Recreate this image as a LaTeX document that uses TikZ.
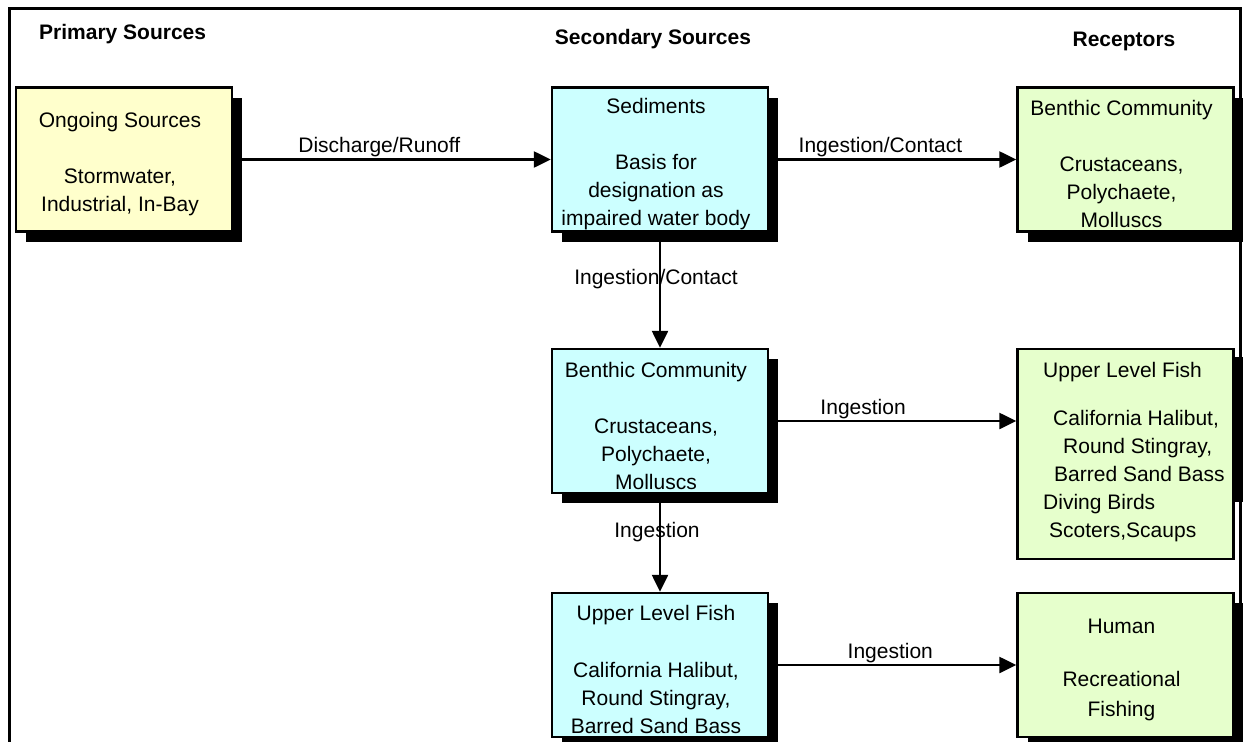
\documentclass[tikz,border=0pt]{standalone}
\usepackage{fontspec}
\setmainfont{Liberation Sans}
\usetikzlibrary{shadows,arrows.meta}
\definecolor{srcyellow}{HTML}{FFFFCC}
\definecolor{seccyan}{HTML}{CCFFFF}
\definecolor{recgreen}{HTML}{E6FFCC}
\newcommand{\cmfont}{\fontsize{21}{28}\selectfont}
\tikzset{
	cmbox/.style={draw, line width=2.4pt, minimum width=216pt, inner sep=0pt},
	cmshadow/.style={general shadow={fill=black, shadow xshift=10pt, shadow yshift=-10pt}},
	cmtext/.style={align=center, font=\cmfont, inner sep=0pt},
	cmtitle/.style={font=\bfseries\cmfont, inner sep=0pt},
	lbl/.style={font=\cmfont, inner sep=1pt}}
\newcommand{\cmnode}[5]{
	\node [cmbox, cmshadow, fill=#3, minimum height=#4] (#1) at (#2) {};
	\node [cmtext] (#1t) at ([shift={(-4pt,-4.5pt)}]#2) {#5};}
\begin{document}
\begin{tikzpicture}[x=1pt, y=-1pt, >={Triangle[length=17pt,width=16pt]}, line width=2.4pt]
	\useasboundingbox (0,0) rectangle (1243,742);
	\draw [line width=3pt] (9,760) -- (9,8) -- (1240,8) -- (1240,760);
	\node [cmtitle, anchor=base west] (tprim) at (38,39.5) {Primary Sources};
	\node [cmtitle, anchor=base] (tsec) at (653,44) {Secondary Sources};
	\node [cmtitle, anchor=base] (trec) at (1124,46) {Receptors};
	\cmnode{src}{124,159.5}{srcyellow}{144pt}{Ongoing Sources\\[28pt]Stormwater,\\Industrial, In-Bay}
	\cmnode{sed}{660,159.5}{seccyan}{144pt}{Sediments\\[28pt]Basis for\\designation as\\impaired water body}
	\cmnode{benr}{1125.5,159.5}{recgreen}{144pt}{Benthic Community\\[28pt]Crustaceans,\\Polychaete,\\Molluscs}
	\cmnode{benm}{660,421}{seccyan}{144pt}{Benthic Community\\[28pt]Crustaceans,\\Polychaete,\\Molluscs}
	\cmnode{ulfm}{660,665}{seccyan}{144pt}{Upper Level Fish\\[29pt]California Halibut,\\Round Stingray,\\Barred Sand Bass}
	\cmnode{hum}{1125.5,665}{recgreen}{144pt}{Human\\[25pt]Recreational\\[2pt]Fishing}
	\node [cmbox, fill=recgreen, minimum height=210pt] (ulfr) at (1125.5,454) {};
	\fill ([yshift=-9pt]ulfr.north east) rectangle ([shift={(9pt,-154pt)}]ulfr.north east);
	\node [cmtext, align=left, anchor=north west] (ulfrt) at (1042,361) {Upper Level Fish\\[20pt]\hspace*{10pt}California Halibut,\\\hspace*{20pt}Round Stingray,\\\hspace*{11pt}Barred Sand Bass\\Diving Birds\\\hspace*{6pt}Scoters,Scaups};
	\draw [->] (src) -- node [lbl, above, pos=0.46] {Discharge/Runoff} (sed);
	\draw [->] (sed) -- node [lbl, above, pos=0.45] {Ingestion/Contact} (benr);
	\draw [->] (sed) -- node [lbl, pos=0.4, xshift=-4pt] {Ingestion/Contact} (benm);
	\draw [->] (benm.east) -- node [lbl, above, pos=0.38] {Ingestion} (benm.east -| ulfr.west);
	\draw [->] (benm) -- node [lbl, pos=0.39, xshift=-3pt] {Ingestion} (ulfm);
	\draw [->] (ulfm) -- node [lbl, above, pos=0.49] {Ingestion} (hum);
\end{tikzpicture}
\end{document}
